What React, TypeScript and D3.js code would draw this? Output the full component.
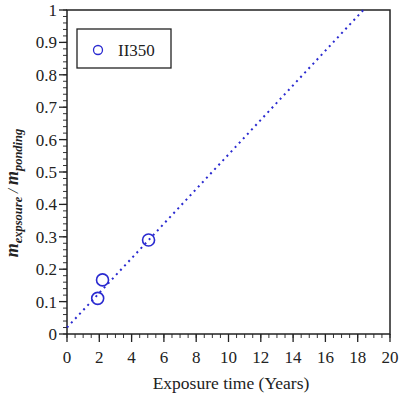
import React from 'react';
import * as d3 from 'd3';

const xTicks = [0, 2, 4, 6, 8, 10, 12, 14, 16, 18, 20];
const yTicks = [0, 0.1, 0.2, 0.3, 0.4, 0.5, 0.6, 0.7, 0.8, 0.9, 1];
const years = [1.9, 2.2, 5.05];
const ratio = [0.11, 0.167, 0.29];
const fitLine = [[0, 0.02], [18.35, 1]];
const seriesName = 'II350';

const App = () => {
  const margin = { top: 10, right: 12, bottom: 62, left: 67 };
  const W = 402, H = 396;
  const x = d3.scaleLinear().domain([0, 20]).range([margin.left, W - margin.right]);
  const y = d3.scaleLinear().domain([0, 1]).range([H - margin.bottom, margin.top]);
  const blue = '#2a2ad0';
  const font = '"Times New Roman", "Liberation Serif", Times, serif';

  const xMinor = d3.range(0, 20.001, 0.5);
  const yMinor = d3.range(0, 1.0001, 0.02);

  const line = d3.line<number[]>().x(d => x(d[0])).y(d => y(d[1]));

  return (
    <svg width={W} height={H} style={{ position: 'absolute', left: 0, top: 0, fontFamily: font }}>
      <rect x={0} y={0} width={W} height={H} fill="#fff" />
      {/* minor ticks */}
      {xMinor.map((t, i) => (
        <line key={'xm' + i} x1={x(t)} x2={x(t)} y1={y(0)} y2={y(0) + 4} stroke="#333" strokeWidth={1} />
      ))}
      {yMinor.map((t, i) => (
        <line key={'ym' + i} x1={x(0) - 4} x2={x(0)} y1={y(t)} y2={y(t)} stroke="#333" strokeWidth={1} />
      ))}
      {/* major ticks and labels */}
      {xTicks.map(t => (
        <g key={'x' + t}>
          <line x1={x(t)} x2={x(t)} y1={y(0)} y2={y(0) + 8} stroke="#222" strokeWidth={1.3} />
          <text x={x(t)} y={y(0) + 29} textAnchor="middle" fontSize={17} fill="#222">{t}</text>
        </g>
      ))}
      {yTicks.map(t => (
        <g key={'y' + t}>
          <line x1={x(0) - 8} x2={x(0)} y1={y(t)} y2={y(t)} stroke="#222" strokeWidth={1.3} />
          <text x={x(0) - 10} y={y(t) + 6} textAnchor="end" fontSize={17} fill="#222">{t}</text>
        </g>
      ))}
      {/* frame */}
      <rect x={x(0)} y={y(1)} width={x(20) - x(0)} height={y(0) - y(1)} fill="none" stroke="#222" strokeWidth={1.5} />
      {/* fit line */}
      <path d={line(fitLine) || ''} fill="none" stroke={blue} strokeWidth={2} strokeDasharray="2 4" />
      {/* points */}
      {years.map((v, i) => (
        <circle key={'p' + i} cx={x(v)} cy={y(ratio[i])} r={6} fill="none" stroke={blue} strokeWidth={1.6} />
      ))}
      {/* legend */}
      <rect x={77} y={29} width={94} height={39} fill="#fff" stroke="#222" strokeWidth={1.3} />
      <circle cx={98} cy={50} r={4.5} fill="none" stroke={blue} strokeWidth={1.3} />
      <text x={118} y={56} fontSize={17} fill="#222">{seriesName}</text>
      {/* axis titles */}
      <text x={231} y={389} textAnchor="middle" fontSize={17.5} fill="#222">Exposure time (Years)</text>
      <text transform="translate(18,193) rotate(-90)" textAnchor="middle" fontSize={18} fill="#222" fontStyle="italic" fontWeight="bold">
        <tspan>m</tspan>
        <tspan fontSize={12.5} dy={4}>expsoure</tspan>
        <tspan fontSize={15} dy={-4} fontWeight="normal"> / </tspan>
        <tspan>m</tspan>
        <tspan fontSize={12.5} dy={4}>ponding</tspan>
      </text>
    </svg>
  );
};

export default App;
